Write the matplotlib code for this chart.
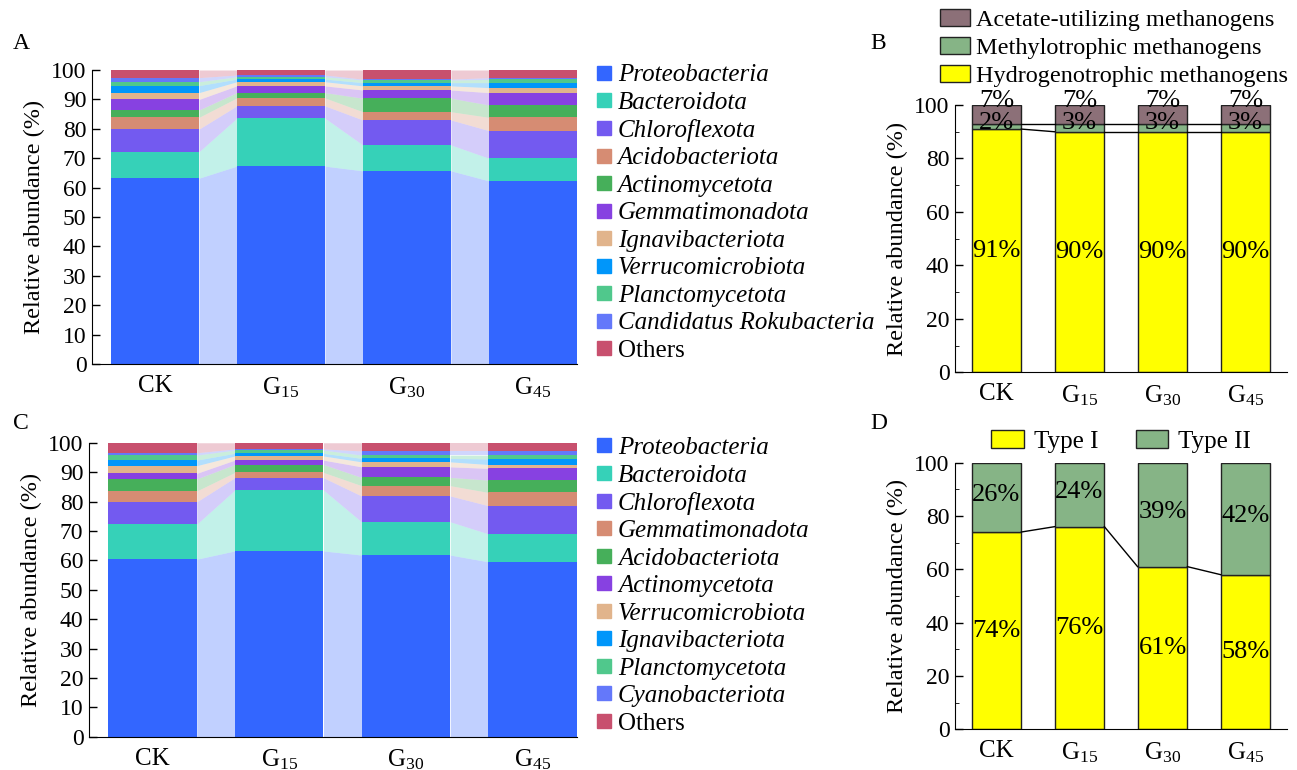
import matplotlib
matplotlib.use("Agg")
import matplotlib.pyplot as plt
import numpy as np
from matplotlib.patches import Patch
from matplotlib.lines import Line2D

plt.rcParams["font.family"] = ["Liberation Serif", "DejaVu Serif"]
plt.rcParams["mathtext.fontset"] = "custom"
plt.rcParams["mathtext.rm"] = "Liberation Serif"
plt.rcParams["mathtext.it"] = "Liberation Serif:italic"
plt.rcParams["font.size"] = 17

groups = ["CK", r"G$_{15}$", r"G$_{30}$", r"G$_{45}$"]

# --- panel A: bacterial phyla (bottom -> top) ---
phyla_a = ["Proteobacteria", "Bacteroidota", "Chloroflexota", "Acidobacteriota",
           "Actinomycetota", "Gemmatimonadota", "Ignavibacteriota",
           "Verrucomicrobiota", "Planctomycetota", "Candidatus Rokubacteria", "Others"]
vals_a = [
    [63.2, 67.3, 65.7, 62.3],
    [9.0, 16.3, 8.8, 7.7],
    [7.7, 4.2, 8.5, 9.4],
    [4.0, 2.7, 2.8, 4.5],
    [2.5, 1.8, 4.6, 4.2],
    [3.6, 2.3, 2.8, 4.2],
    [2.3, 1.4, 1.4, 1.7],
    [2.4, 0.9, 1.1, 1.7],
    [1.3, 0.8, 0.9, 1.1],
    [1.4, 0.6, 0.3, 0.6],
    [2.6, 1.7, 3.1, 2.6],
]

# --- panel C: phyla (bottom -> top) ---
phyla_c = ["Proteobacteria", "Bacteroidota", "Chloroflexota", "Gemmatimonadota",
           "Acidobacteriota", "Actinomycetota", "Verrucomicrobiota",
           "Ignavibacteriota", "Planctomycetota", "Cyanobacteriota", "Others"]
vals_c = [
    [60.4, 63.2, 61.8, 59.5],
    [11.9, 20.7, 11.3, 9.5],
    [7.6, 4.2, 8.8, 9.6],
    [3.7, 1.8, 3.5, 4.5],
    [4.1, 2.7, 2.8, 4.2],
    [1.9, 1.5, 3.6, 4.0],
    [2.6, 1.4, 1.7, 1.3],
    [1.9, 0.9, 1.2, 1.9],
    [1.7, 1.1, 1.1, 1.3],
    [0.8, 0.4, 1.4, 1.4],
    [3.4, 2.1, 2.8, 2.8],
]

phylum_colors = ["#3366FF", "#36D1B8", "#735AF0", "#D68C73", "#46AF5A", "#8741E1",
                 "#E1B48C", "#0096FA", "#50C88C", "#6478FA", "#C8506E"]

# --- panel B: methanogens ---
meth_names = ["Hydrogenotrophic methanogens", "Methylotrophic methanogens",
              "Acetate-utilizing methanogens"]
hydro = [91, 90, 90, 90]
methylo = [2, 3, 3, 3]
acetate = [7, 7, 7, 7]
meth_colors = ["#FFFF00", "#86B486", "#8C7078"]

# --- panel D: methanotrophs ---
type_names = ["Type I", "Type II"]
type1 = [74, 76, 61, 58]
type2 = [26, 24, 39, 42]
type_colors = ["#FFFF00", "#86B486"]

fig = plt.figure(figsize=(12.97, 7.70), dpi=100)
ax_a = fig.add_axes([0.0709, 0.5273, 0.3739, 0.3818])
ax_c = fig.add_axes([0.0686, 0.0432, 0.3763, 0.3818])
ax_b = fig.add_axes([0.7363, 0.5165, 0.2560, 0.3471])
ax_d = fig.add_axes([0.7363, 0.0529, 0.2560, 0.3462])


def style_axis(ax):
    for s in ("top", "right"):
        ax.spines[s].set_visible(False)
    ax.tick_params(axis="y", direction="in", length=6, width=1, pad=4)
    ax.tick_params(axis="y", which="minor", direction="in", length=3)
    ax.tick_params(axis="x", length=0, pad=8, labelsize=18)
    ax.set_ylabel("Relative abundance (%)", fontsize=17.5, labelpad=4)


def stacked_flow(ax, names, vals, w=0.7):
    x = np.arange(len(groups))
    vals = np.array(vals)
    bottoms = np.vstack([np.zeros(len(groups)), np.cumsum(vals, axis=0)[:-1]])
    for i, name in enumerate(names):
        ax.bar(x, vals[i], w, bottom=bottoms[i], color=phylum_colors[i],
               linewidth=0)
        top = bottoms[i] + vals[i]
        for j in range(len(groups) - 1):
            xs = [x[j] + w / 2, x[j + 1] - w / 2]
            ax.fill_between(xs, [bottoms[i][j], bottoms[i][j + 1]],
                            [top[j], top[j + 1]], color=phylum_colors[i],
                            alpha=0.3, linewidth=0)
    ax.set_xlim(-0.5, len(groups) - 1 + w / 2)
    ax.set_ylim(0, 100)
    ax.set_yticks(range(0, 101, 10))
    ax.set_xticks(x)
    ax.set_xticklabels(groups)
    style_axis(ax)
    handles = [Line2D([], [], marker="s", linestyle="none", markersize=9.5,
                      color=phylum_colors[i]) for i in range(len(names))]
    leg = ax.legend(handles, names, loc="upper left",
                    bbox_to_anchor=(1.02, 1.055), frameon=False,
                    handlelength=0.6, handletextpad=0.25, labelspacing=0.2,
                    borderaxespad=0, fontsize=18)
    for t in leg.get_texts():
        if t.get_text() != "Others":
            t.set_fontstyle("italic")


stacked_flow(ax_a, phyla_a, vals_a)
stacked_flow(ax_c, phyla_c, vals_c)


def stacked_box(ax, layers, colors, names, label_y):
    x = np.arange(len(groups))
    w = 0.6
    bottom = np.zeros(len(groups))
    tops = []
    for k, layer in enumerate(layers):
        layer = np.array(layer, dtype=float)
        ax.bar(x, layer, w, bottom=bottom, color=colors[k], edgecolor="#222222",
               linewidth=1, label=names[k])
        for j in range(len(groups)):
            ax.text(x[j], label_y[k][j], f"{int(layer[j])}%", ha="center",
                    va="center", fontsize=19)
        bottom = bottom + layer
        tops.append(bottom.copy())
    for top in tops[:-1]:
        for j in range(len(groups) - 1):
            ax.plot([x[j] + w / 2, x[j + 1] - w / 2], [top[j], top[j + 1]],
                    color="black", linewidth=1)
    ax.set_xlim(-0.5, 3.5)
    ax.set_ylim(0, 100)
    ax.set_yticks(range(0, 101, 20))
    ax.set_yticks(range(10, 100, 20), minor=True)
    ax.set_xticks(x)
    ax.set_xticklabels(groups)
    style_axis(ax)


b_label_y = [[h / 2 for h in hydro], [93.2] * 4, [101.5] * 4]
stacked_box(ax_b, [hydro, methylo, acetate], meth_colors, meth_names, b_label_y)
hb = [Patch(facecolor=meth_colors[k], edgecolor="#222222") for k in (2, 1, 0)]
ax_b.legend(hb, [meth_names[k] for k in (2, 1, 0)], loc="lower left",
            bbox_to_anchor=(-0.075, 1.03), frameon=False, handlelength=1.25,
            handleheight=0.7, handletextpad=0.25, labelspacing=0.25,
            borderaxespad=0, fontsize=17.5)

d_label_y = [[v / 2 for v in type1], [type1[j] + type2[j] / 2 + 1 for j in range(4)]]
stacked_box(ax_d, [type1, type2], type_colors, type_names, d_label_y)
hd = [Patch(facecolor=type_colors[k], edgecolor="#222222") for k in range(2)]
ax_d.legend(hd, type_names, loc="lower center", bbox_to_anchor=(0.5, 1.0),
            ncol=2, frameon=False, handlelength=1.3, handleheight=0.7,
            handletextpad=0.4, columnspacing=1.5, borderaxespad=0, fontsize=18)

for lab, (x, y) in zip("ABCD", [(0.01, 0.943), (0.671, 0.943),
                                (0.01, 0.45), (0.671, 0.45)]):
    fig.text(x, y, lab, fontsize=17, va="center")

fig.savefig("out.png", dpi=100)
